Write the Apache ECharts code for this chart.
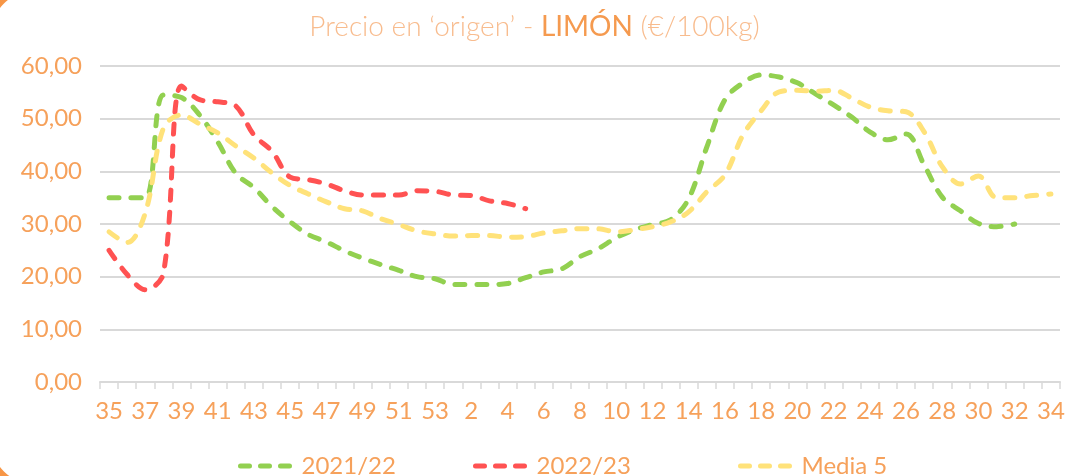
<!DOCTYPE html>
<html>
<head>
<meta charset="utf-8">
<script src="https://cdn.jsdelivr.net/npm/echarts@6/dist/echarts.min.js"></script>
<style>
    html, body { margin: 0; padding: 0; background: #fff; }
    #chart { width: 1069px; height: 476px; }
</style>
</head>
<body>
<div id="chart"></div>
<script>
    // semanas: 35..53 y luego 1..34
    var weeks = ['35','36','37','38','39','40','41','42','43','44','45','46','47','48','49','50','51','52','53',
        '1','2','3','4','5','6','7','8','9','10','11','12','13','14','15','16','17','18','19','20',
        '21','22','23','24','25','26','27','28','29','30','31','32','33','34'];

    var serie2122 = [35, 35, 35, 54.5, 54, 50.7, 45.6, 39.6, 36.9, 33.3, 30.4, 28, 26.6, 24.9, 23.5, 22.3, 21.2, 20, 19.6,
        18.5, 18.5, 18.5, 18.7, 19.8, 20.9, 21.5, 23.8, 25.3, 27.4, 28.9, 29.9, 30.8, 34.8, 44.6, 53.6, 56.8, 58.3, 57.9,
        56.8, 54.7, 52.6, 50.3, 47.5, 46, 47.1, 41.2, 35.1, 32.5, 30.1, 29.5, 30, null, null];

    var serie2223 = [25, 20.4, 17.5, 20.6, 56.2, 53.6, 53.2, 52.4, 46.9, 43.8, 38.9, 38.4, 37.6, 36.3, 35.5, 35.5, 35.5, 36.3, 36.2,
        35.5, 35.4, 34.4, 33.9, 32.9];

    var media5 = [28.5, 26.5, 32.1, 48.2, 50.7, 49, 47.3, 44.8, 42.5, 39.7, 37.3, 35.7, 34.2, 32.9, 32.5, 31, 29.9, 28.7, 28.1,
        27.7, 27.8, 27.8, 27.5, 27.6, 28.3, 28.7, 29.1, 29.1, 28.5, 28.9, 29.5, 30.4, 32.3, 36.1, 39.3, 46.9, 51.5, 55.1,
        55.4, 55.2, 55.4, 53.9, 52.2, 51.5, 51.3, 47.5, 40.9, 37.6, 39.1, 35, 35, 35.4, 35.7];

    var yTicks = [0, 10, 20, 30, 40, 50, 60];

    var FONT = 'Lato';
    var ORANGE = '#F6A15B';

    var myChart = echarts.init(document.getElementById('chart'), null, {renderer: 'canvas'});

    function lineSerie (name, data, color) {
        return {
            name: name,
            type: 'line',
            data: data,
            smooth: 0.35,
            symbol: 'none',
            connectNulls: false,
            lineStyle: {
                color: color,
                width: 5,
                type: [10, 12],
                cap: 'round',
                join: 'round'
            },
            itemStyle: {color: color}
        };
    }

    function legendAt (name, left) {
        return {
            data: [name],
            left: left,
            top: 449,
            itemWidth: 56,
            itemHeight: 14,
            itemGap: 10,
            textStyle: {color: ORANGE, fontSize: 24, fontFamily: FONT},
            itemStyle: {color: 'rgba(0,0,0,0)', borderWidth: 0},
            lineStyle: {width: 5, type: [9, 11], cap: 'round'}
        };
    }

    var option = {
        animation: false,
        backgroundColor: '#fff',
        textStyle: {fontFamily: FONT},
        title: {
            left: 'center',
            top: 8,
            text: '{a|Precio en ‘origen’ - }{b|LIMÓN}{a| (€/100kg)}',
            textStyle: {
                rich: {
                    a: {fontSize: 28, fontWeight: 300, color: '#F8BC8E', fontFamily: FONT},
                    b: {fontSize: 28, fontWeight: 400, color: '#F59A4F', fontFamily: FONT}
                }
            }
        },
        legend: [
            legendAt('2021/22', 233),
            legendAt('2022/23', 468),
            legendAt('Media 5', 733)
        ],
        grid: {left: 100, right: 9, top: 66, bottom: 94, containLabel: false},
        xAxis: {
            type: 'category',
            data: weeks,
            boundaryGap: true,
            axisLine: {lineStyle: {color: '#D9D9D9', width: 2}},
            axisTick: {show: true, interval: 0, length: 7, lineStyle: {color: '#D9D9D9', width: 1.5}},
            axisLabel: {interval: 1, color: ORANGE, fontSize: 24, margin: 17, fontFamily: FONT},
            splitLine: {show: false}
        },
        yAxis: {
            type: 'value',
            min: yTicks[0],
            max: yTicks[yTicks.length - 1],
            interval: 10,
            axisLine: {show: false},
            axisTick: {show: false},
            axisLabel: {
                color: ORANGE,
                fontSize: 24,
                margin: 18,
                fontFamily: FONT,
                formatter: function (v) {
                    return v.toFixed(2).replace('.', ',');
                }
            },
            splitLine: {lineStyle: {color: '#D9D9D9', width: 2}}
        },
        series: [
            lineSerie('2021/22', serie2122, '#92D050'),
            lineSerie('2022/23', serie2223, '#FF5252'),
            lineSerie('Media 5', media5, '#FFE27A')
        ],
        graphic: [{
            // borde naranja del marco (solo se ven las esquinas)
            type: 'rect',
            silent: true,
            z: -1,
            shape: {x: -12, y: -12, width: 1300, height: 499, r: 44},
            style: {fill: 'none', stroke: '#F79646', lineWidth: 8}
        }]
    };

    myChart.setOption(option);
</script>
</body>
</html>
